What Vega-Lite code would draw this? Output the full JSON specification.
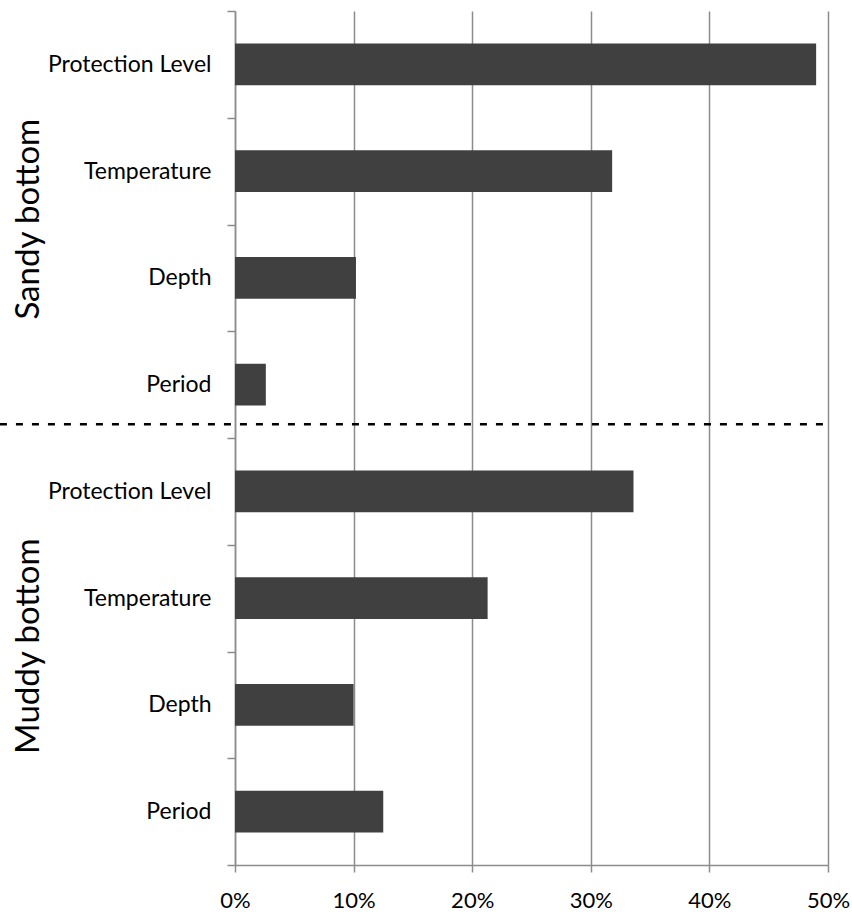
{
  "$schema": "https://vega.github.io/schema/vega-lite/v6.json",
  "width": 593,
  "height": 854,
  "autosize": {"type": "none"},
  "padding": {"left": 235, "top": 11, "right": 24, "bottom": 50},
  "config": {"view": {"stroke": null}, "font": "Lato"},
  "datasets": {
    "bars": [
      {"habitat": "Sandy bottom", "factor": "Protection Level", "key": "Sandy bottom|Protection Level", "value": 0.49},
      {"habitat": "Sandy bottom", "factor": "Temperature", "key": "Sandy bottom|Temperature", "value": 0.318},
      {"habitat": "Sandy bottom", "factor": "Depth", "key": "Sandy bottom|Depth", "value": 0.102},
      {"habitat": "Sandy bottom", "factor": "Period", "key": "Sandy bottom|Period", "value": 0.026},
      {"habitat": "Muddy bottom", "factor": "Protection Level", "key": "Muddy bottom|Protection Level", "value": 0.336},
      {"habitat": "Muddy bottom", "factor": "Temperature", "key": "Muddy bottom|Temperature", "value": 0.213},
      {"habitat": "Muddy bottom", "factor": "Depth", "key": "Muddy bottom|Depth", "value": 0.1},
      {"habitat": "Muddy bottom", "factor": "Period", "key": "Muddy bottom|Period", "value": 0.125}
    ],
    "groups": [
      {"habitat": "Sandy bottom", "at": "Sandy bottom|Depth"},
      {"habitat": "Muddy bottom", "at": "Muddy bottom|Depth"}
    ],
    "divider": [
      {"after": "Sandy bottom|Period"}
    ]
  },
  "layer": [
    {
      "data": {"name": "bars"},
      "mark": {"type": "bar", "color": "#404040", "height": {"band": 0.39}},
      "encoding": {
        "y": {
          "field": "key",
          "type": "nominal",
          "scale": {
            "domain": ["Sandy bottom|Protection Level", "Sandy bottom|Temperature", "Sandy bottom|Depth", "Sandy bottom|Period", "Muddy bottom|Protection Level", "Muddy bottom|Temperature", "Muddy bottom|Depth", "Muddy bottom|Period"],
            "paddingInner": 0,
            "paddingOuter": 0
          },
          "axis": {
            "title": null,
            "labelExpr": "split(datum.label, '|')[1]",
            "tickBand": "extent",
            "tickSize": 8,
            "labelPadding": 16,
            "labelFontSize": 23,
            "labelFont": "Lato",
            "labelColor": "#000000",
            "domainColor": "#8c8c8c",
            "domainWidth": 1.5,
            "tickColor": "#8c8c8c",
            "tickWidth": 1.5,
            "grid": false
          }
        },
        "x": {
          "field": "value",
          "type": "quantitative",
          "scale": {"domain": [0, 0.5], "nice": false},
          "axis": {
            "values": [0, 0.1, 0.2, 0.3, 0.4, 0.5],
            "format": ".0%",
            "title": null,
            "grid": true,
            "gridColor": "#8c8c8c",
            "gridWidth": 1.5,
            "domainColor": "#8c8c8c",
            "domainWidth": 1.5,
            "tickColor": "#8c8c8c",
            "tickWidth": 1.5,
            "tickSize": 7,
            "labelPadding": 18,
            "labelFontSize": 22,
            "labelFont": "Lato",
            "labelColor": "#000000",
            "labelFlush": false
          }
        }
      }
    },
    {
      "data": {"name": "groups"},
      "mark": {"type": "text", "angle": 270, "fontSize": 33, "font": "Lato", "align": "center", "baseline": "middle", "color": "#000000", "clip": false},
      "encoding": {
        "text": {"field": "habitat"},
        "y": {"field": "at", "type": "nominal", "bandPosition": -0.05},
        "x": {"datum": -0.174}
      }
    },
    {
      "data": {"name": "divider"},
      "mark": {"type": "rule", "strokeDash": [7, 9], "strokeWidth": 2.5, "color": "#000000", "clip": false},
      "encoding": {
        "x": {"datum": -0.1982},
        "x2": {"datum": 0.5},
        "y": {"field": "after", "type": "nominal", "bandPosition": 0.872}
      }
    }
  ]
}
